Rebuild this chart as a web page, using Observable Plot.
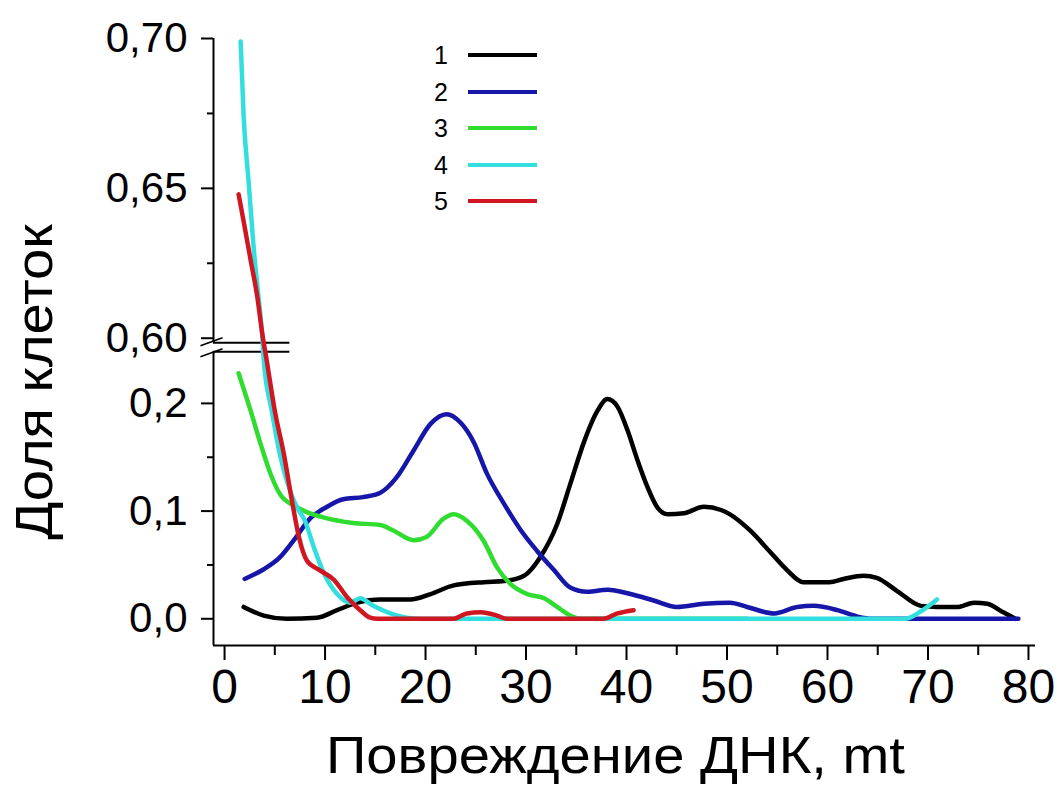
<!DOCTYPE html>
<html>
<head>
<meta charset="utf-8">
<script src="https://cdn.jsdelivr.net/npm/d3@7"></script>
<script src="https://cdn.jsdelivr.net/npm/@observablehq/plot@0.6"></script>
<style>
  body { margin: 0; background: #fff; }
  #wrap { position: relative; width: 1063px; height: 787px; overflow: hidden; background: #fff;
          font-family: "Liberation Sans", Arial, sans-serif; color: #000; }
  #chart { position: absolute; left: 0; top: 0; }
  .xtitle { position: absolute; left: 326px; top: 729px; font-size: 52px; line-height: 52px; white-space: nowrap;
            transform: scaleX(1.08); transform-origin: left center; }
  .ytitle { position: absolute; left: -166px; top: 356px; width: 400px; height: 52px; font-size: 52px; line-height: 52px;
            text-align: center; white-space: nowrap; transform: rotate(-90deg) scaleX(1.08); transform-origin: center; }
  .lrow { position: absolute; left: 430px; height: 30px; display: flex; align-items: center; }
  .lnum { width: 22px; text-align: center; font-size: 25px; line-height: 30px; }
  .lline { width: 69px; height: 4px; margin-left: 16px; }
</style>
</head>
<body>
<div id="wrap">
  <div id="chart"></div>
  <div class="ytitle">Доля клеток</div>
  <div class="xtitle">Повреждение ДНК, mt</div>
</div>
<script>
// ---- data (x = DNA damage, mt ; y = fraction of cells) ----
const seriesNames  = ["1", "2", "3", "4", "5"];
const seriesColors = ["#000000", "#1616a8", "#30dc30", "#33dede", "#d01620"];

const series1 = [[1.9,0.011],[3.9,0.003],[6.2,0.0],[9.2,0.001],[11.2,0.008],[13.2,0.015],[15.5,0.018],[18.5,0.018],
  [20.5,0.023],[22.8,0.031],[25.8,0.034],[27.8,0.035],[29.8,0.040],[31.4,0.057],[33.1,0.088],[34.4,0.125],[35.8,0.165],
  [37.1,0.193],[38.1,0.204],[39.1,0.197],[40.1,0.175],[41.1,0.147],[42.1,0.122],[43.1,0.103],[44.1,0.097],[45.7,0.098],
  [47.7,0.104],[49.4,0.101],[50.3,0.097],[52.3,0.082],[54.3,0.062],[56.0,0.045],[57.6,0.034],[60.2,0.034],[61.6,0.037],
  [63.6,0.040],[64.9,0.038],[66.9,0.026],[69.3,0.012],[70.9,0.011],[72.9,0.011],[74.6,0.015],[75.9,0.014],[77.5,0.006],[78.7,0.0]];

const series2 = [[2.0,0.037],[3.9,0.046],[5.5,0.057],[6.9,0.073],[8.5,0.093],[10.2,0.104],[11.8,0.111],[13.8,0.113],
  [15.5,0.117],[17.1,0.131],[18.8,0.156],[20.5,0.181],[22.1,0.190],[23.5,0.182],[24.8,0.164],[26.1,0.135],[27.8,0.107],
  [29.5,0.082],[31.1,0.063],[32.8,0.045],[34.4,0.029],[36.1,0.025],[38.1,0.027],[40.4,0.023],[42.7,0.017],[45.0,0.011],
  [47.7,0.014],[50.3,0.015],[52.0,0.011],[54.7,0.005],[57.0,0.011],[58.6,0.012],[61.0,0.008],[63.0,0.002],[64.5,0.0],[79.0,0.0]];

const series3 = [[1.4,0.228],[2.6,0.193],[3.6,0.162],[4.6,0.134],[5.5,0.116],[6.9,0.105],[8.2,0.099],[9.9,0.094],
  [12.8,0.089],[15.5,0.087],[16.8,0.082],[18.8,0.073],[20.1,0.076],[21.8,0.093],[22.8,0.097],[24.1,0.091],[25.8,0.072],
  [27.1,0.048],[28.5,0.032],[30.1,0.023],[31.8,0.019],[33.1,0.011],[34.4,0.003],[35.4,0.0],[52.0,0.0]];

const series4 = [[1.6,0.699],[1.9,0.674],[2.4,0.652],[2.9,0.630],[3.4,0.613],[3.75,0.6007],[3.9,0.240],[4.7,0.193],
  [5.5,0.153],[6.4,0.122],[7.2,0.1035],[8.0,0.091],[8.9,0.066],[9.9,0.042],[11.2,0.023],[12.5,0.015],[13.5,0.019],
  [14.8,0.012],[16.5,0.005],[18.1,0.001],[19.5,0.0],[67.7,0.0],[69.3,0.007],[70.9,0.018]];

const series5 = [[1.4,0.648],[1.9,0.639],[2.6,0.626],[3.25,0.614],[3.75,0.6016],[4.2,0.2396],[5.0,0.193],[5.9,0.153],
  [6.7,0.110],[7.4,0.076],[8.2,0.054],[9.5,0.045],[10.9,0.036],[12.2,0.020],[13.5,0.008],[14.5,0.001],[15.2,0.0],
  [22.8,0.0],[24.1,0.005],[25.5,0.006],[27.1,0.003],[28.1,0.0],[37.7,0.0],[39.1,0.005],[40.7,0.008]];

const allSeries = [series1, series2, series3, series4, series5];

// axis ticks
const xMajorTicks = [0, 10, 20, 30, 40, 50, 60, 70, 80];
const xMinorTicks = [5, 15, 25, 35, 45, 55, 65, 75];
const yMajorTicks = [0, 0.1, 0.2, 0.60, 0.65, 0.70];
const yMajorLabels = ["0,0", "0,1", "0,2", "0,60", "0,65", "0,70"];
const yMinorTicks = [0.05, 0.15, 0.625, 0.675];

// ---- broken y axis: piecewise linear mapping ----
const LOW_MAX = 0.248, UP_MIN = 0.5985, LOW_K = 1078, UP_K = 3000, GAP = 9;
const uLowTop = LOW_K * LOW_MAX, uUpBot = uLowTop + GAP;
function brk(v) {
  if (v <= LOW_MAX) return LOW_K * v;
  if (v >= UP_MIN) return uUpBot + UP_K * (v - UP_MIN);
  return uLowTop + (v - LOW_MAX) / (UP_MIN - LOW_MAX) * GAP;
}
const xDomain = [-1.1, 80.7];
const yLowV = -0.0248, yTopV = 0.70;
const yLabelMap = new Map(yMajorTicks.map((v, i) => [brk(v), yMajorLabels[i]]));

const lineMarks = allSeries.map((s, i) =>
  Plot.line(s, {x: d => d[0], y: d => brk(d[1]), stroke: seriesColors[i], strokeWidth: 4.5,
                curve: "monotone-x", strokeLinejoin: "round", strokeLinecap: "round"}));

const chart = Plot.plot({
  width: 1063, height: 787,
  marginLeft: 213, marginRight: 28, marginTop: 38, marginBottom: 142,
  style: {fontFamily: '"Liberation Sans", Arial, sans-serif', background: "transparent", color: "#000", overflow: "visible"},
  x: {domain: xDomain, label: null},
  y: {domain: [brk(yLowV), brk(yTopV)], label: null},
  marks: [
    // axis lines
    Plot.ruleY([brk(yLowV)], {y: d => d, x1: () => xDomain[0], x2: () => xDomain[1], strokeWidth: 2}),
    Plot.ruleX([xDomain[0]], {x: d => d, y1: () => brk(yLowV), y2: () => uLowTop, strokeWidth: 2}),
    Plot.ruleX([xDomain[0]], {x: d => d, y1: () => uUpBot, y2: () => brk(yTopV), strokeWidth: 2}),
    // break marks
    Plot.ruleY([uLowTop, uUpBot], {y: d => d, x1: () => xDomain[0], x2: () => 6.5, strokeWidth: 2}),
    Plot.link([uLowTop - 1, uUpBot + 1], {x1: () => xDomain[0] - 1.3, x2: () => xDomain[0] + 0.9,
               y1: d => d - 4, y2: d => d + 4, strokeWidth: 1.5}),
    // ticks
    Plot.axisX(xMajorTicks, {tickSize: 15, tickPadding: 8, fontSize: 48, strokeWidth: 2, label: null}),
    Plot.axisX(xMinorTicks, {tickSize: 10, tickFormat: () => "", strokeWidth: 2, label: null}),
    Plot.axisY(yMajorTicks.map(brk), {tickSize: 12, tickPadding: 14, fontSize: 42, strokeWidth: 2,
               tickFormat: u => yLabelMap.get(u), label: null}),
    Plot.axisY(yMinorTicks.map(brk), {tickSize: 6, tickFormat: () => "", strokeWidth: 2, label: null}),
    ...lineMarks
  ]
});
document.getElementById("chart").appendChild(chart);

// legend
const wrap = document.getElementById("wrap");
const legendTop = 55, legendStep = 36.6;
seriesNames.forEach((name, i) => {
  const row = document.createElement("div");
  row.className = "lrow";
  row.style.top = (legendTop + i * legendStep - 15) + "px";
  const num = document.createElement("span");
  num.className = "lnum"; num.textContent = name;
  const ln = document.createElement("span");
  ln.className = "lline"; ln.style.background = seriesColors[i];
  row.appendChild(num); row.appendChild(ln);
  wrap.appendChild(row);
});
</script>
</body>
</html>
